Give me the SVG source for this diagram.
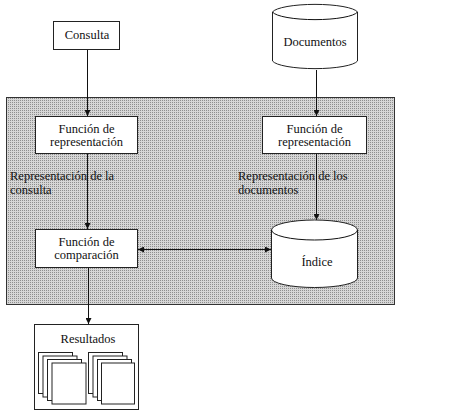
<svg xmlns="http://www.w3.org/2000/svg" width="459" height="416" viewBox="0 0 459 416">
  <style>
    .box { fill: #ffffff; stroke: #222; stroke-width: 1; }
    .page { fill: #ffffff; stroke: #222; stroke-width: 1; }
    .conn { stroke: #111; stroke-width: 1; fill: none; }
    .t { font-family: 'Liberation Serif', 'DejaVu Serif', 'Times New Roman', serif; font-size: 12.5px; fill: #111; }
    .c { text-anchor: middle; }
  </style>
  <defs>
    <pattern id="dots" width="2" height="2" patternUnits="userSpaceOnUse">
      <rect width="2" height="2" fill="#d6d6d6"/>
      <rect width="1" height="1" fill="#8e8e8e"/>
    </pattern>
    <marker id="arr" viewBox="0 0 10 10" refX="10" refY="5" markerWidth="6" markerHeight="6" orient="auto-start-reverse" markerUnits="userSpaceOnUse">
      <path d="M0,0 L10,5 L0,10 z" fill="#111"/>
    </marker>
  </defs>

  <g id="panel">
    <rect x="6.5" y="97.5" width="388" height="207" fill="url(#dots)" stroke="#333" stroke-width="1"/>
  </g>

  <g id="connectors">
    <line class="conn" x1="87.5" y1="50" x2="87.5" y2="116" marker-end="url(#arr)"/>
    <line class="conn" x1="316.5" y1="70" x2="316.5" y2="116" marker-end="url(#arr)"/>
    <line class="conn" x1="87.5" y1="154" x2="87.5" y2="229" marker-end="url(#arr)"/>
    <line class="conn" x1="316.5" y1="154" x2="316.5" y2="220" marker-end="url(#arr)"/>
    <line class="conn" x1="138" y1="249.5" x2="271" y2="249.5" marker-start="url(#arr)" marker-end="url(#arr)"/>
    <line class="conn" x1="88.5" y1="268" x2="88.5" y2="324" marker-end="url(#arr)"/>
  </g>

  <g id="consulta">
    <rect class="box" x="53.5" y="21.5" width="66" height="28"/>
    <text class="t c" x="87" y="39">Consulta</text>
  </g>

  <g id="documentos">
    <path class="box" d="M272.5,12 L272.5,61 A43,9 0 0 0 357.5,61 L357.5,12 A43,9 0 0 0 272.5,12 Z"/>
    <path class="conn" d="M272.5,12 A43,9 0 0 0 357.5,12" stroke="#222"/>
    <text class="t c" x="315" y="46">Documentos</text>
  </g>

  <g id="funcion-rep-consulta">
    <rect class="box" x="35.5" y="116.5" width="102" height="37"/>
    <text class="t c" x="86.5" y="133">Función de</text>
    <text class="t c" x="86.5" y="146">representación</text>
  </g>

  <g id="funcion-rep-documentos">
    <rect class="box" x="262.5" y="116.5" width="104" height="37"/>
    <text class="t c" x="314.5" y="133">Función de</text>
    <text class="t c" x="314.5" y="146">representación</text>
  </g>

  <g id="label-consulta">
    <text class="t" x="10" y="180">Representación de la</text>
    <text class="t" x="10" y="194">consulta</text>
  </g>

  <g id="label-documentos">
    <text class="t" x="238" y="180">Representación de los</text>
    <text class="t" x="238" y="194">documentos</text>
  </g>

  <g id="funcion-comparacion">
    <rect class="box" x="35.5" y="229.5" width="102" height="38"/>
    <text class="t c" x="86.5" y="246">Función de</text>
    <text class="t c" x="86.5" y="259">comparación</text>
  </g>

  <g id="indice">
    <path class="box" d="M271.5,230 L271.5,278 A43,9.5 0 0 0 357.5,278 L357.5,230 A43,10 0 0 0 271.5,230 Z"/>
    <path class="conn" d="M271.5,230 A43,10 0 0 0 357.5,230" stroke="#222"/>
    <text class="t c" x="317" y="266">Índice</text>
  </g>

  <g id="resultados">
    <rect class="box" x="34.5" y="324.5" width="104" height="85"/>
    <text class="t c" x="88" y="343">Resultados</text>
    <rect class="page" x="38.5" y="352.5" width="34" height="41"/>
    <rect class="page" x="43" y="356" width="34" height="41"/>
    <rect class="page" x="47.5" y="359.5" width="34" height="41"/>
    <rect class="page" x="52" y="363" width="34" height="41"/>
    <rect class="page" x="88.5" y="352.5" width="34" height="41"/>
    <rect class="page" x="93" y="356" width="34" height="41"/>
    <rect class="page" x="97.5" y="359.5" width="34" height="41"/>
    <rect class="page" x="101.5" y="363" width="33" height="41"/>
  </g>
</svg>
